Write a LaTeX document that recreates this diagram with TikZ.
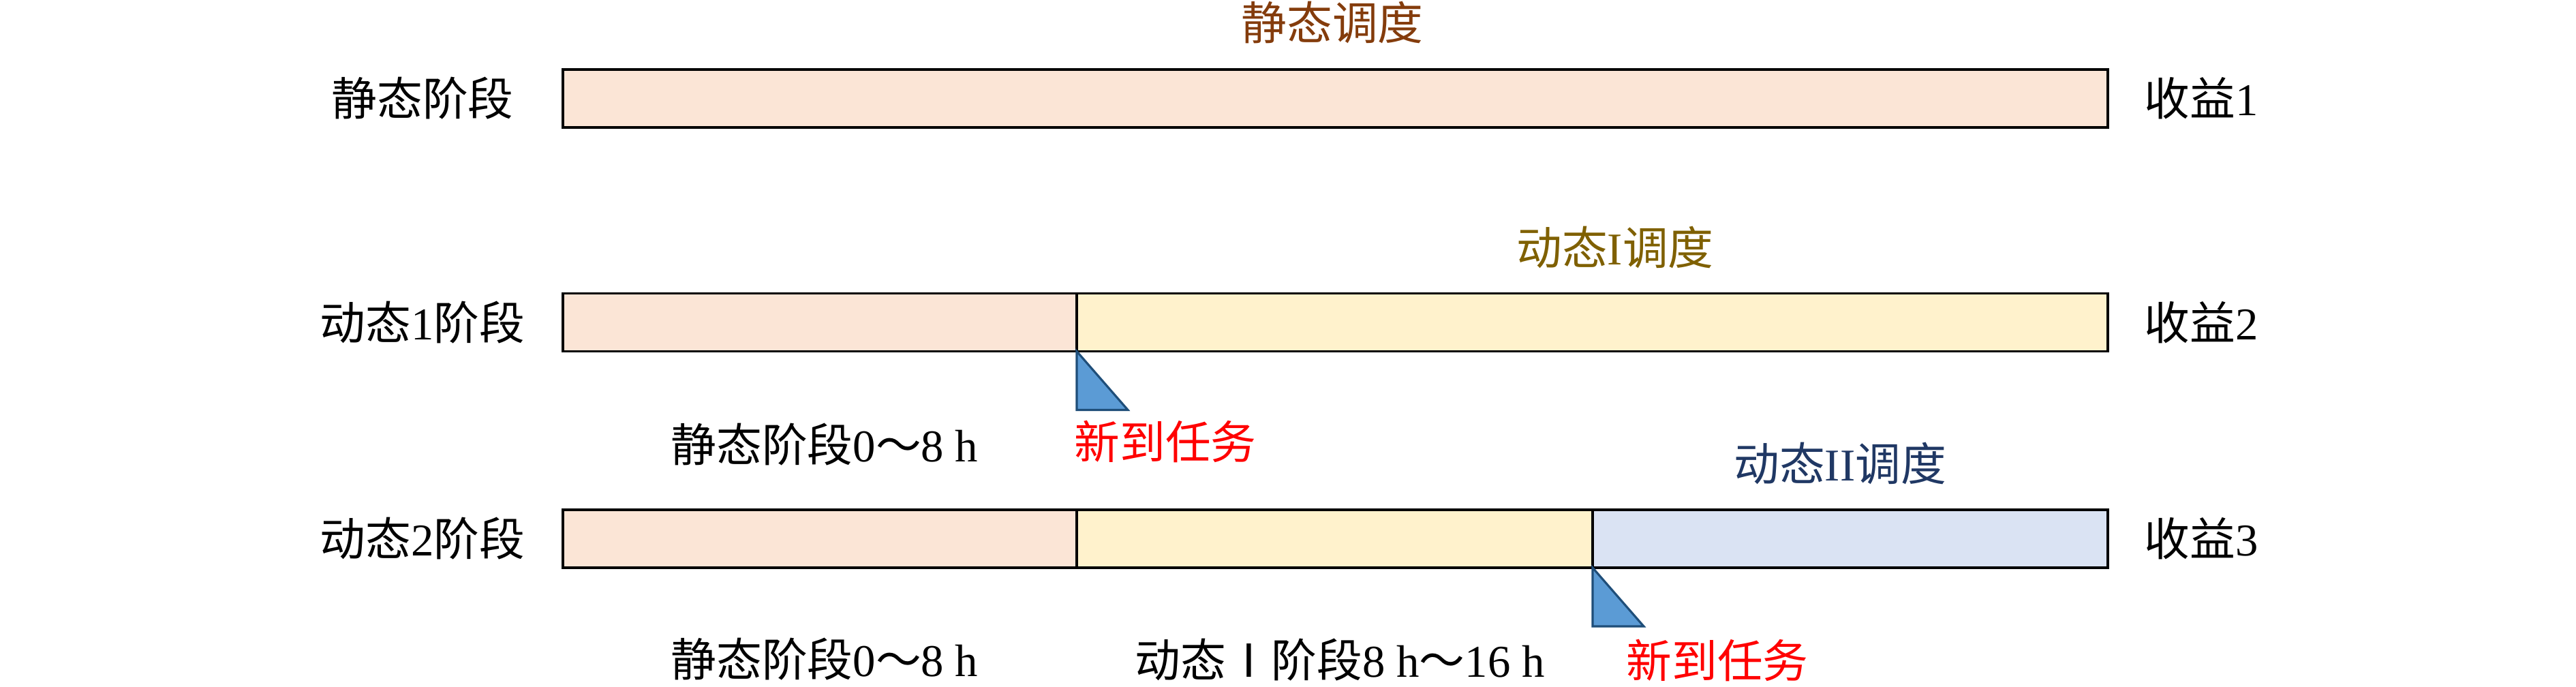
\documentclass[tikz,border=0pt]{standalone}
\usepackage{fontspec}
\setmainfont{Liberation Serif}
\newfontfamily\cjk{Noto Sans CJK SC}
\newcommand{\zh}[1]{{\cjk #1}}
\usepackage{tikz}
\usetikzlibrary{positioning}

\definecolor{peach}{HTML}{FBE5D6}
\definecolor{cream}{HTML}{FFF2CC}
\definecolor{lilac}{HTML}{DAE3F3}
\definecolor{flagblue}{HTML}{5B9BD5}
\definecolor{flagline}{HTML}{1F4E79}
\definecolor{statcol}{HTML}{843C0C}
\definecolor{dynicol}{HTML}{7F6000}
\definecolor{dyniicol}{HTML}{203864}

\begin{document}
\begin{tikzpicture}
        [seg/.style={draw=black, line width=1.1pt, minimum height=0.85cm, inner sep=0pt, outer sep=0pt, anchor=west},
         lab/.style={font=\fontsize{19}{23}\selectfont, inner sep=0pt},
         flag/.style={draw=flagline, fill=flagblue, line width=0.9pt, line join=miter}]
        \useasboundingbox (0,0) rectangle (37.8,10.08);

        % bars
        \node[seg, fill=peach, minimum width=22.67cm] (s0) at (8.26,8.635) {};
        \node[seg, fill=peach, minimum width=7.54cm] (d1a) at (8.26,5.35) {};
        \node[seg, fill=cream, minimum width=15.13cm] (d1b) at (d1a.east) {};
        \node[seg, fill=peach, minimum width=7.54cm] (d2a) at (8.26,2.175) {};
        \node[seg, fill=cream, minimum width=7.57cm] (d2b) at (d2a.east) {};
        \node[seg, fill=lilac, minimum width=7.56cm] (d2c) at (d2b.east) {};

        % new task flags
        \draw[flag] (d1a.south east) -- ++(0,-0.86) -- ++(0.75,0) -- cycle;
        \draw[flag] (d2b.south east) -- ++(0,-0.86) -- ++(0.75,0) -- cycle;

        % labels
        \node[lab] (l0) at (6.2,8.635) {\zh{静态阶段}};
        \node[lab] (l1) at (6.2,5.35) {\zh{动态}1\zh{阶段}};
        \node[lab] (l2) at (6.2,2.175) {\zh{动态}2\zh{阶段}};
        \node[lab] (r0) at (32.3,8.635) {\zh{收益}1};
        \node[lab] (r1) at (32.3,5.35) {\zh{收益}2};
        \node[lab] (r2) at (32.3,2.175) {\zh{收益}3};

        \node[lab, text=statcol] (h0) at (19.55,9.75) {\zh{静态调度}};
        \node[lab, text=dynicol] (h1) at (23.7,6.45) {\zh{动态}I\zh{调度}};
        \node[lab, text=dyniicol] (h2) at (27.0,3.28) {\zh{动态}II\zh{调度}};

        \node[lab] (p1) at (12.1,3.56) {\zh{静态阶段}0\zh{～}8 h};
        \node[lab, text=red] (n1) at (17.1,3.6) {\zh{新到任务}};
        \node[lab] (p2) at (12.1,0.41) {\zh{静态阶段}0\zh{～}8 h};
        \node[lab] (p3) at (19.66,0.40) {\zh{动态Ⅰ阶段}8 h\zh{～}16 h};
        \node[lab, text=red] (n2) at (25.2,0.39) {\zh{新到任务}};
\end{tikzpicture}
\end{document}
